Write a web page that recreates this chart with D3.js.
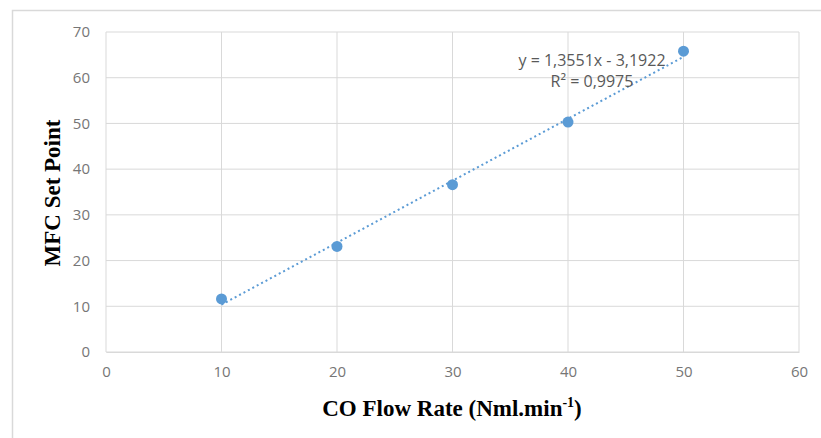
<!DOCTYPE html>
<html>
<head>
<meta charset="utf-8">
<script src="https://cdn.jsdelivr.net/npm/d3@7"></script>
<style>
  body { margin: 0; background: #fff; }
  svg { display: block; }
</style>
</head>
<body>
<svg id="chart" width="821" height="438"></svg>
<script>
// data
var flowRate = [10, 20, 30, 40, 50];
var setPoint = [11.6, 23.1, 36.6, 50.3, 65.8];
var xTicks = [0, 10, 20, 30, 40, 50, 60];
var yTicks = [0, 10, 20, 30, 40, 50, 60, 70];
var trendSlope = 1.3551, trendIntercept = -3.1922;
var trendLabel = ["y = 1,3551x - 3,1922", "R\u00b2 = 0,9975"];

var width = 821, height = 438;
var margin = { left: 106, right: 22, top: 32, bottom: 86 };

var svg = d3.select("#chart");

// outer chart border
svg.append("rect")
    .attr("x", 12.5).attr("y", 10.5)
    .attr("width", width).attr("height", height)
    .attr("fill", "none")
    .attr("stroke", "#d9d9d9")
    .attr("stroke-width", 1.5);

var x = d3.scaleLinear().domain([0, 60]).range([margin.left, width - margin.right]);
var y = d3.scaleLinear().domain([0, 70]).range([height - margin.bottom, margin.top]);

var grid = svg.append("g");
grid.selectAll("line.v")
    .data(xTicks)
    .enter()
    .append("line")
    .attr("x1", function (d) { return x(d); })
    .attr("x2", function (d) { return x(d); })
    .attr("y1", y(0)).attr("y2", y(70))
    .attr("stroke", "#d9d9d9");
grid.selectAll("line.h")
    .data(yTicks)
    .enter()
    .append("line")
    .attr("x1", x(0)).attr("x2", x(60))
    .attr("y1", function (d) { return y(d); })
    .attr("y2", function (d) { return y(d); })
    .attr("stroke", "#d9d9d9");

var tickFont = "Open Sans, Liberation Sans, sans-serif";

var xAxis = svg.append("g")
    .attr("transform", "translate(0," + y(0) + ")")
    .call(d3.axisBottom(x).tickValues(xTicks).tickSize(0).tickPadding(14));
var yAxis = svg.append("g")
    .attr("transform", "translate(" + x(0) + ",0)")
    .call(d3.axisLeft(y).tickValues(yTicks).tickSize(0).tickPadding(16));

[xAxis, yAxis].forEach(function (g) {
    g.select(".domain").attr("stroke", "#d9d9d9");
    g.selectAll("text")
        .attr("fill", "#767676")
        .style("font-family", tickFont)
        .style("font-size", "15px");
});
yAxis.select(".domain").remove();

// dotted linear trendline
svg.append("line")
    .attr("x1", x(flowRate[0]))
    .attr("y1", y(trendSlope * flowRate[0] + trendIntercept))
    .attr("x2", x(flowRate[flowRate.length - 1]))
    .attr("y2", y(trendSlope * flowRate[flowRate.length - 1] + trendIntercept))
    .attr("stroke", "#5b9bd5")
    .attr("stroke-width", 2)
    .attr("stroke-dasharray", "2,3");

svg.selectAll("circle.pt")
    .data(flowRate)
    .enter()
    .append("circle")
    .attr("class", "pt")
    .attr("cx", function (d) { return x(d); })
    .attr("cy", function (d, i) { return y(setPoint[i]); })
    .attr("r", 5.5)
    .attr("fill", "#5b9bd5");

// trendline equation
svg.append("text")
    .attr("x", 592).attr("y", 66)
    .attr("text-anchor", "middle")
    .attr("fill", "#595959")
    .style("font-family", tickFont)
    .style("font-size", "16px")
    .text(trendLabel[0]);
svg.append("text")
    .attr("x", 592).attr("y", 87)
    .attr("text-anchor", "middle")
    .attr("fill", "#595959")
    .style("font-family", tickFont)
    .style("font-size", "16px")
    .text(trendLabel[1]);

// axis titles
var xTitle = svg.append("text")
    .attr("x", 452).attr("y", 416)
    .attr("text-anchor", "middle")
    .style("font-family", "Liberation Serif, Times New Roman, serif")
    .style("font-weight", "bold")
    .style("font-size", "23px")
    .attr("fill", "#000");
xTitle.append("tspan").text("CO Flow Rate (Nml.min");
xTitle.append("tspan").attr("dy", -9).style("font-size", "14px").text("-1");
xTitle.append("tspan").attr("dy", 9).text(")");

svg.append("text")
    .attr("transform", "translate(60," + (y(35) + 1) + ") rotate(-90)")
    .attr("text-anchor", "middle")
    .style("font-family", "Liberation Serif, Times New Roman, serif")
    .style("font-weight", "bold")
    .style("font-size", "23px")
    .attr("fill", "#000")
    .text("MFC Set Point");
</script>
</body>
</html>
